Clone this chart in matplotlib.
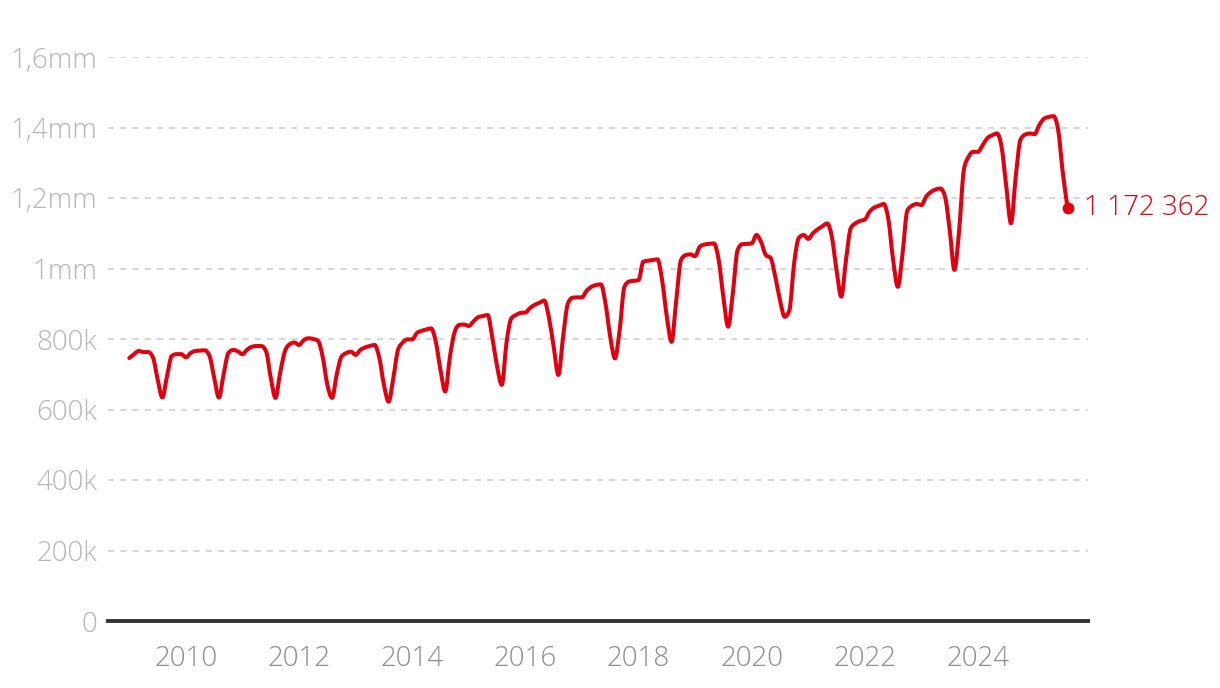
import numpy as np
import matplotlib.pyplot as plt
from matplotlib.path import Path
from matplotlib.patches import PathPatch

plt.rcParams['font.family'] = ['Open Sans', 'DejaVu Sans']

# monthly values in thousands, Jan..Dec
years = list(range(2009, 2026))
v2009 = [746, 757, 766, 763, 763, 748, 686, 634, 695, 752, 757, 757]
v2010 = [748, 760, 766, 767, 768, 752, 690, 634, 700, 760, 769, 765]
v2011 = [757, 770, 778, 780, 780, 765, 690, 633, 705, 765, 785, 790]
v2012 = [783, 797, 802, 800, 795, 750, 670, 633, 700, 750, 760, 764]
v2013 = [755, 769, 776, 780, 783, 748, 670, 622, 690, 770, 790, 799]
v2014 = [799, 817, 823, 827, 830, 792, 712, 651, 750, 820, 840, 841]
v2015 = [837, 850, 862, 865, 868, 803, 722, 670, 790, 858, 868, 874]
v2016 = [875, 888, 897, 903, 909, 860, 778, 698, 806, 900, 917, 918]
v2017 = [918, 937, 948, 953, 955, 900, 806, 745, 826, 948, 963, 965]
v2018 = [967, 1019, 1022, 1024, 1026, 967, 863, 792, 910, 1024, 1038, 1040]
v2019 = [1035, 1062, 1068, 1070, 1071, 1024, 918, 835, 930, 1052, 1069, 1070]
v2020 = [1071, 1095, 1075, 1038, 1030, 977, 910, 863, 882, 1015, 1087, 1095]
v2021 = [1084, 1100, 1111, 1120, 1128, 1090, 995, 920, 1024, 1114, 1128, 1135]
v2022 = [1139, 1161, 1173, 1178, 1183, 1138, 1024, 948, 1043, 1164, 1178, 1183]
v2023 = [1180, 1204, 1217, 1224, 1227, 1204, 1109, 996, 1109, 1280, 1317, 1331]
v2024 = [1331, 1350, 1370, 1378, 1383, 1345, 1232, 1128, 1260, 1365, 1380, 1383]
v2025 = [1381, 1407, 1425, 1430, 1432, 1393, 1270, 1172.362]

y_ticks = [0, 200000, 400000, 600000, 800000, 1000000, 1200000, 1400000, 1600000]
y_labels = ['0', '200k', '400k', '600k', '800k', '1mm', '1,2mm', '1,4mm', '1,6mm']
x_ticks = [2010, 2012, 2014, 2016, 2018, 2020, 2022, 2024]

RED = '#e1000f'

values = np.array(v2009 + v2010 + v2011 + v2012 + v2013 + v2014 + v2015 + v2016
                  + v2017 + v2018 + v2019 + v2020 + v2021 + v2022 + v2023 + v2024
                  + v2025) * 1000
dates = np.array([y + m / 12 for y in years for m in range(12)])[:len(values)]


def monotone_path(x, y):
    # same curve as d3.curveMonotoneX
    n = len(x)
    h = np.diff(x)
    s = np.diff(y) / h
    t = np.zeros(n)
    for i in range(1, n - 1):
        h0, h1, s0, s1 = h[i - 1], h[i], s[i - 1], s[i]
        p = (s0 * h1 + s1 * h0) / (h0 + h1)
        t[i] = (np.sign(s0) + np.sign(s1)) * min(abs(s0), abs(s1), 0.5 * abs(p))
    t[0] = (3 * s[0] - t[1]) / 2
    t[-1] = (3 * s[-1] - t[-2]) / 2
    verts = [(x[0], y[0])]
    codes = [Path.MOVETO]
    for i in range(n - 1):
        dx = h[i] / 3
        verts += [(x[i] + dx, y[i] + dx * t[i]),
                  (x[i + 1] - dx, y[i + 1] - dx * t[i + 1]),
                  (x[i + 1], y[i + 1])]
        codes += [Path.CURVE4] * 3
    return Path(verts, codes)


fig = plt.figure(figsize=(12.2, 6.88), dpi=100)
ax = fig.add_axes([108 / 1220, 67 / 688, 980 / 1220, 564 / 688])

ax.add_patch(PathPatch(monotone_path(dates, values), facecolor='none',
                       edgecolor=RED, lw=2.9, joinstyle='round',
                       capstyle='round', zorder=3))
ax.plot(dates[-1], values[-1], 'o', color=RED, ms=7.5, zorder=4, clip_on=False)
ax.annotate(f'{values[-1]:,.0f}'.replace(',', ' '), xy=(dates[-1], values[-1]),
            xytext=(12, 0), textcoords='offset points', va='center',
            ha='left', color=RED, fontsize=20, fontweight='light')

ax.set_xlim(2008.623, 2025.944)
ax.set_ylim(0, 1600000)

ax.set_yticks(y_ticks)
ax.set_yticklabels(y_labels)
ax.set_xticks(x_ticks)
ax.set_xticklabels([str(x) for x in x_ticks])

ax.yaxis.grid(True, color='#cccccc', lw=1.1, linestyle=(0, (4, 4)))
ax.set_axisbelow(True)
for side in ['top', 'right', 'left']:
    ax.spines[side].set_visible(False)
ax.spines['bottom'].set_color('#333333')
ax.spines['bottom'].set_linewidth(2.8)
ax.spines['bottom'].set_zorder(2)

ax.tick_params(axis='y', length=0, pad=8, labelsize=20, labelcolor='#b5b5b5')
ax.tick_params(axis='x', length=0, pad=17, labelsize=20, labelcolor='#8c8c8c')
for lab in ax.get_xticklabels() + ax.get_yticklabels():
    lab.set_fontweight('light')

fig.savefig('out.png', dpi=100)
